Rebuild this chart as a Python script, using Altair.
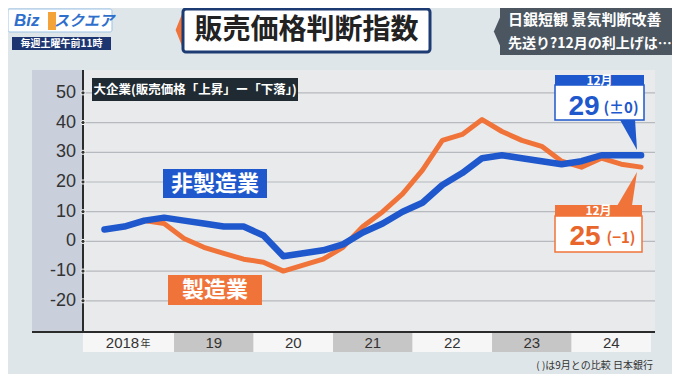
import altair as alt
import pandas as pd

# ---------------- data ----------------
periods = ["2018/3", "2018/6", "2018/9", "2018/12",
           "2019/3", "2019/6", "2019/9", "2019/12",
           "2020/3", "2020/6", "2020/9", "2020/12",
           "2021/3", "2021/6", "2021/9", "2021/12",
           "2022/3", "2022/6", "2022/9", "2022/12",
           "2023/3", "2023/6", "2023/9", "2023/12",
           "2024/3", "2024/6", "2024/9", "2024/12"]
non_mfg = [4, 5, 7, 8, 7, 6, 5, 5, 2, -5, -4, -3, -1, 3, 6, 10,
           13, 19, 23, 28, 29, 28, 27, 26, 27, 29, 29, 29]
mfg = [4, 5, 7, 6, 1, -2, -4, -6, -7, -10, -8, -6, -2, 5, 10, 16,
       24, 34, 36, 41, 37, 34, 32, 27, 25, 28, 26, 25]
y_ticks = [50, 40, 30, 20, 10, 0, -10, -20]
years = [2018, 2019, 2020, 2021, 2022, 2023, 2024]
year_labels = ["2018", "19", "20", "21", "22", "23", "24"]
series_names = ["非製造業", "製造業"]

JP = "Noto Sans CJK JP"
LAT = "Liberation Sans"
BLUE = "#1f58cc"
ORANGE = "#f0743a"

X_DOMAIN = [2017.855, 2025.05]
xscale = alt.Scale(domain=X_DOMAIN, range=[75, 647], nice=False, zero=False)
yscale = alt.Scale(domain=[-30.5, 57.7], range=[324, 62], nice=False, zero=False)


def to_t(p):
    y, m = p.split("/")
    return int(y) + (int(m) / 3 - 0.5) / 4


rows = []
for p, a, b in zip(periods, non_mfg, mfg):
    rows.append({"t": to_t(p), "v": a, "s": series_names[0]})
    rows.append({"t": to_t(p), "v": b, "s": series_names[1]})
df = pd.DataFrame(rows)

starts = [X_DOMAIN[0]] + years[1:]
ends = [y + 1 for y in years]
bands = pd.DataFrame({
    "start": starts, "end": ends,
    "mid": [(s + e) / 2 for s, e in zip(starts, ends)],
    "label": year_labels,
    "shade": ["light" if i % 2 == 0 else "dark" for i in range(len(years))],
})
ticks = pd.DataFrame({"v": y_ticks, "lbl": [str(v) for v in y_ticks]})

one = pd.DataFrame({"k": [0]})


def rect(x1, x2, y1, y2, fill, stroke=None, sw=0, cr=0):
    kw = dict(fill=fill, cornerRadius=cr)
    if stroke:
        kw.update(stroke=stroke, strokeWidth=sw)
    return alt.Chart(one).mark_rect(**kw).encode(
        x=alt.value(x1), x2=alt.value(x2), y=alt.value(y1), y2=alt.value(y2))


def text(x, y, s, size, color, weight="normal", align="center", font=JP, style="normal"):
    return alt.Chart(one).mark_text(
        fontSize=size, color=color, fontWeight=weight, align=align,
        baseline="middle", font=font, fontStyle=style).encode(
        x=alt.value(x), y=alt.value(y), text=alt.value(s))


def shape(cx, cy, path, size, color):
    return alt.Chart(one).mark_point(
        shape=path, filled=True, fill=color, strokeWidth=0, size=size, opacity=1).encode(
        x=alt.value(cx), y=alt.value(cy))


def hrule(x1, x2, y, color, w):
    return alt.Chart(one).mark_rule(color=color, strokeWidth=w).encode(
        x=alt.value(x1), x2=alt.value(x2), y=alt.value(y))


def vrule(x, y1, y2, color, w):
    return alt.Chart(one).mark_rule(color=color, strokeWidth=w).encode(
        x=alt.value(x), y=alt.value(y1), y2=alt.value(y2))


layers = []
# logo
layers += [
    rect(0, 104, 1, 24, "#ffffff", "#9cc3e6", 1, 2),
    text(6, 13, "Biz", 17, "#2f6fcc", "bold", "left", LAT, "italic"),
    rect(40, 48, 4, 22, "#f3a338"),
    text(76, 13, "スクエア", 15, "#2f6fcc", "bold", "center", JP, "italic"),
    rect(4, 103, 29, 42, "#1d3570"),
    text(53.5, 35.5, "毎週土曜午前11時", 10, "#ffffff", "bold"),
]
# title
layers += [
    shape(172, 22, "M0.2,-1 L-0.2,0 L0.2,1 Z", 1936, ORANGE),
    rect(175, 422, 1, 44, "#ffffff", "#1c3b73", 3, 3),
    text(298.5, 23, "販売価格判断指数", 28, "#222222", "bold"),
]
# top-right headline
layers += [
    shape(491, 23.5, "M0.22,-1 L-0.22,0 L0.22,1 Z", 2209, "#4b5661"),
    rect(492, 664, 0, 47, "#4b5661"),
    text(500, 12, "日銀短観 景気判断改善", 15, "#ffffff", "bold", "left"),
    text(500, 36, "先送り?12月の利上げは…", 14, "#ffffff", "bold", "left"),
]
# panels
layers += [
    rect(24, 75, 62, 324, "#c9cfdb"),
    rect(75, 647, 62, 324, "#e9eaec"),
]
# gridlines
layers.append(alt.Chart(ticks).mark_rule(color="#b6b9bd", strokeWidth=1.2).encode(
    y=alt.Y("v:Q", scale=yscale, axis=None), x=alt.value(75), x2=alt.value(647)))
# year band row
layers.append(alt.Chart(bands).mark_rect().encode(
    x=alt.X("start:Q", scale=xscale, axis=None), x2="end:Q",
    y=alt.value(325), y2=alt.value(344),
    color=alt.Color("shade:N", scale=alt.Scale(domain=["light", "dark"],
                                               range=["#f6f6f6", "#c6c6c6"]), legend=None)))
layers.append(alt.Chart(bands.iloc[1:]).mark_text(fontSize=15, color="#333333", font=LAT,
                                                   baseline="middle").encode(
    x=alt.X("mid:Q", scale=xscale, axis=None), y=alt.value(334.5), text="label:N"))
layers.append(alt.Chart(bands.iloc[:1]).mark_text(fontSize=15, color="#333333", font=LAT,
                                                   baseline="middle", dx=-6).encode(
    x=alt.X("mid:Q", scale=xscale, axis=None), y=alt.value(334.5), text="label:N"))
layers.append(alt.Chart(bands.iloc[:1]).mark_text(fontSize=10, color="#333333", font=JP,
                                                   baseline="middle", dx=17).encode(
    x=alt.X("mid:Q", scale=xscale, axis=None), y=alt.value(336), text=alt.value("年")))
# axes
layers += [
    vrule(75, 62, 324, "#2b2b2b", 2),
    hrule(24, 647, 324, "#2b2b2b", 2),
]
layers.append(alt.Chart(ticks).mark_text(fontSize=18, color="#333333", font=LAT,
                                          align="right", baseline="middle").encode(
    y=alt.Y("v:Q", scale=yscale, axis=None), x=alt.value(68), text="lbl:N"))
layers.append(alt.Chart(ticks).mark_point(filled=True, fill="#333333", stroke="#ffffff",
                                           strokeWidth=1, size=18, opacity=1).encode(
    y=alt.Y("v:Q", scale=yscale, axis=None), x=alt.value(75)))
# label box
layers += [
    rect(84, 290, 70, 93, "#1f2a32"),
    text(187, 81.5, "大企業(販売価格「上昇」ー「下落」)", 12.5, "#ffffff", "bold"),
]
# series labels
layers += [
    rect(155, 259, 161, 190, BLUE),
    text(207, 175.5, series_names[0], 22, "#ffffff", "bold"),
    rect(160, 254, 267, 297, ORANGE),
    text(207, 282, series_names[1], 22, "#ffffff", "bold"),
]
# lines
layers.append(alt.Chart(df[df.s == series_names[1]]).mark_line(
    color=ORANGE, strokeWidth=5, strokeCap="round", strokeJoin="round").encode(
    x=alt.X("t:Q", scale=xscale, axis=None), y=alt.Y("v:Q", scale=yscale, axis=None)))
layers.append(alt.Chart(df[df.s == series_names[0]]).mark_line(
    color=BLUE, strokeWidth=6.5, strokeCap="round", strokeJoin="round").encode(
    x=alt.X("t:Q", scale=xscale, axis=None), y=alt.Y("v:Q", scale=yscale, axis=None)))


def change(vals):
    d = vals[-1] - vals[-2]
    return "(±0)" if d == 0 else ("(+%d)" % d if d > 0 else "(−%d)" % (-d))


# callouts
layers += [
    shape(620, 127, "M-0.53,-1 L0.47,-1 L0.6,1 Z", 900, BLUE),
    rect(547, 636, 67, 78, BLUE),
    rect(547, 636, 77, 112, "#ffffff", BLUE, 1.5),
    text(591.5, 72.5, "12月", 12, "#ffffff", "bold"),
    text(576, 99, str(non_mfg[-1]), 28, BLUE, "bold", "center", LAT),
    text(613, 100, change(non_mfg), 15, BLUE, "bold", "center", JP),
    shape(619, 181, "M-0.59,1 L0.29,1 L0.59,-1 Z", 1156, ORANGE),
    rect(547, 634, 197, 209, ORANGE),
    rect(547, 634, 208, 244, "#ffffff", ORANGE, 1.5),
    text(590.5, 203, "12月", 12, "#ffffff", "bold"),
    text(577, 229, str(mfg[-1]), 28, "#e8652c", "bold", "center", LAT),
    text(613, 230, change(mfg), 15, "#e8652c", "bold", "center", JP),
]
# note
layers.append(text(645, 358, "( )は9月との比較  日本銀行", 10, "#333333", "normal", "right"))

chart = alt.layer(*layers).properties(
    width=664, height=366, padding=0,
    autosize=alt.AutoSizeParams(type="none"),
).configure(background="#dfe6e9").configure_view(stroke=None)

chart.save("out.html", embed_options={"renderer": "svg", "actions": False})
